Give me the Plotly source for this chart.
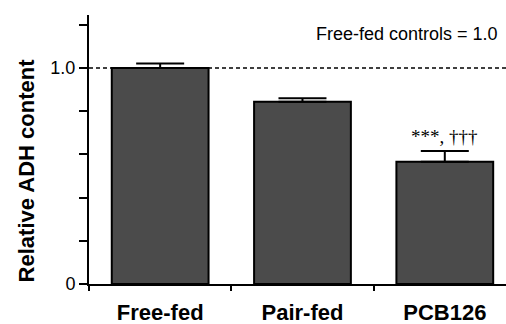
import plotly.graph_objects as go

groups = ["Free-fed", "Pair-fed", "PCB126"]
adh_values = [1.0, 0.843, 0.566]
adh_sem = [0.02, 0.017, 0.05]
y_tick_vals = [0, 0.2, 0.4, 0.6, 0.8, 1.0, 1.2]
y_tick_text = ["0", "", "", "", "", "1.0", ""]
sig_label = "***, †††"
note = "Free-fed controls = 1.0"

FONT = "Liberation Sans, Arial, Helvetica, sans-serif"

fig = go.Figure()
fig.add_trace(go.Bar(
    x=groups, y=adh_values, width=0.68,
    marker=dict(color="#4b4b4b", line=dict(color="black", width=2)),
    error_y=dict(type="data", array=adh_sem, arrayminus=[0]*len(adh_sem), symmetric=False,
                 color="black", thickness=2, width=24),
    showlegend=False,
))

fig.add_shape(type="line", xref="paper", yref="y", x0=0, x1=1, y0=1.0, y1=1.0,
              line=dict(color="black", width=1.5, dash="4px,3px"), layer="below")

fig.add_annotation(x=groups[2], y=adh_values[2] + adh_sem[2], yref="y", text=sig_label,
                   showarrow=False, yanchor="bottom", yshift=2,
                   font=dict(family="Liberation Serif, Times New Roman, serif", size=19, color="black"))
fig.add_annotation(x=0.985, y=0.93, xref="paper", yref="paper", text=note,
                   showarrow=False, xanchor="right", yanchor="middle",
                   font=dict(family=FONT, size=18, color="black"))
fig.add_annotation(x=-0.15, y=0.424, xref="paper", yref="paper", text="<b>Relative ADH content</b>",
                   textangle=-90, showarrow=False, xanchor="center", yanchor="middle",
                   font=dict(family=FONT, size=22, color="black"))

fig.update_layout(
    width=506, height=324,
    margin=dict(l=89, r=0, t=15, b=40),
    paper_bgcolor="white", plot_bgcolor="white",
    font=dict(family=FONT, color="black"),
)
fig.update_xaxes(
    type="category", range=[-0.5, 2.43], tickson="boundaries",
    showline=True, linecolor="black", linewidth=2,
    ticks="outside", ticklen=5, tickwidth=1.5, tickcolor="black",
    tickfont=dict(family=FONT, size=22, color="black"),
    tickprefix="<b>", ticksuffix="</b>",
    ticklabelstandoff=8, automargin=False,
    showgrid=False, zeroline=False,
)
fig.update_yaxes(
    range=[0, 1.245], tickvals=y_tick_vals, ticktext=y_tick_text,
    showline=True, linecolor="black", linewidth=2,
    ticks="outside", ticklen=8, tickwidth=1.5, tickcolor="black",
    tickfont=dict(family=FONT, size=18, color="black"),
    automargin=False,
    showgrid=False, zeroline=False,
)

fig.write_html("out.html", config={"displayModeBar": False},
               post_script="document.body.style.margin='0';")
